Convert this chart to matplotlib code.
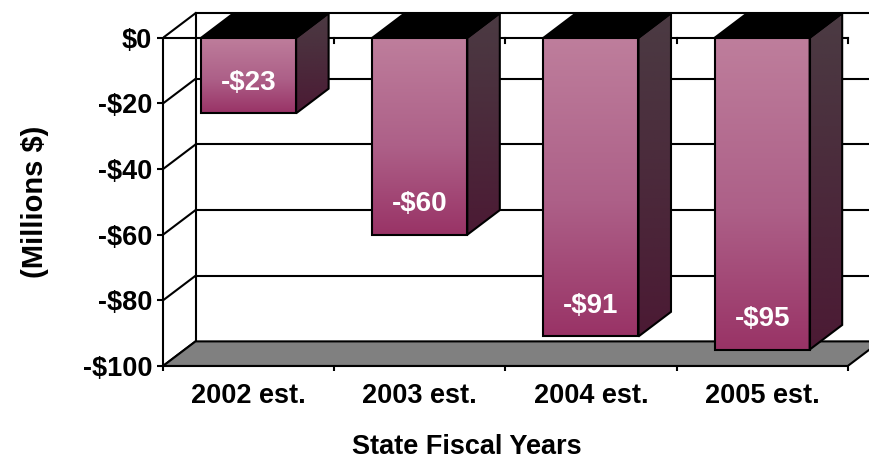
import numpy as np
import matplotlib.pyplot as plt
from matplotlib.patches import Polygon
from matplotlib.colors import LinearSegmentedColormap

years = ["2002 est.", "2003 est.", "2004 est.", "2005 est."]
shortfall = [-23, -60, -91, -95]
yticks = [0, -20, -40, -60, -80, -100]

plt.rcParams['font.family'] = ['Liberation Sans', 'DejaVu Sans']
plt.rcParams['font.weight'] = 'bold'

fig = plt.figure(figsize=(8.7, 4.59), dpi=100)
ax = fig.add_axes([163/870, 93/459, 707/870, 361/459])

n = len(years)
dx, dy = 0.19, 7.5      # depth of the 3D box (category units, $M)
bw = 0.555              # bar width
lw = 1.5

front_cmap = LinearSegmentedColormap.from_list(
    'front', [(0, '#993366'), (0.45, '#ad6088'), (1, '#be7e9c')])
side_cmap = LinearSegmentedColormap.from_list(
    'side', [(0, '#4b1a34'), (1, '#4b3b43')])
grad = np.linspace(0, 1, 256).reshape(-1, 1)

# walls: back gridlines, left wall diagonals, back corner
for v in yticks[:-1]:
    ax.plot([dx, n + 1], [v + dy, v + dy], color='k', lw=lw, zorder=1)
for v in yticks:
    ax.plot([0, dx], [v, v + dy], color='k', lw=lw, zorder=1)
ax.plot([dx, dx], [yticks[-1] + dy, dy], color='k', lw=lw, zorder=1)

# floor
floor = Polygon([(0, -100), (n, -100), (n + dx, -100 + dy), (dx, -100 + dy)],
                closed=True, facecolor='#808080', edgecolor='k', lw=lw, zorder=2)
ax.add_patch(floor)

# category axis at zero
ax.plot([0, n], [0, 0], color='k', lw=lw, zorder=2)
for k in range(1, n + 1):
    ax.plot([k, k], [0, -1.6], color='k', lw=lw, zorder=2)

for i, v in enumerate(shortfall):
    x0 = i + 0.5 - bw / 2
    x1 = x0 + bw

    side = Polygon([(x1, v), (x1 + dx, v + dy), (x1 + dx, dy), (x1, 0)],
                   closed=True, facecolor='none', edgecolor='k', lw=lw, zorder=4)
    ax.add_patch(side)
    im = ax.imshow(grad, cmap=side_cmap, origin='lower', aspect='auto',
                   extent=[x1, x1 + dx, v, dy], zorder=3, interpolation='bilinear')
    im.set_clip_path(side)

    top = Polygon([(x0, 0), (x1, 0), (x1 + dx, dy), (x0 + dx, dy)],
                  closed=True, facecolor='k', edgecolor='k', lw=lw, zorder=4)
    ax.add_patch(top)

    front = Polygon([(x0, v), (x1, v), (x1, 0), (x0, 0)],
                    closed=True, facecolor='none', edgecolor='k', lw=lw, zorder=4)
    ax.add_patch(front)
    im = ax.imshow(grad, cmap=front_cmap, origin='lower', aspect='auto',
                   extent=[x0, x1, v, 0], zorder=3, interpolation='bilinear')
    im.set_clip_path(front)

    ax.text(i + 0.5, v + 9.3, f"-${abs(v)}", color='white', fontsize=20,
            fontweight='bold', ha='center', va='center', zorder=6)

ax.set_xlim(0, 4.13)
ax.set_ylim(-100, 10)

for s in ['top', 'right']:
    ax.spines[s].set_visible(False)
ax.spines['left'].set_bounds(-100, 0)
ax.spines['bottom'].set_bounds(0, n)
ax.spines['left'].set_linewidth(lw)
ax.spines['bottom'].set_linewidth(lw)

ax.set_yticks(yticks)
ax.set_yticklabels(["$0" if v == 0 else f"-${abs(v)}" for v in yticks])
ax.tick_params(axis='y', length=4.3, width=lw, pad=3.5, labelsize=19.5)

ax.set_xticks(range(n + 1))
ax.set_xticklabels([])
ax.set_xticks([i + 0.5 for i in range(n)], minor=True)
ax.set_xticklabels(years, minor=True)
ax.tick_params(axis='x', which='major', length=3.6, width=lw)
ax.tick_params(axis='x', which='minor', length=0, pad=12, labelsize=19.5)

fig.text(467/870, 1 - 447/459, "State Fiscal Years", fontsize=19.5,
         fontweight='bold', ha='center', va='center')
fig.text(35/870, 1 - 202/459, "(Millions $)", fontsize=21,
         fontweight='bold', ha='center', va='center', rotation=90)

fig.savefig("out.png", dpi=100)
